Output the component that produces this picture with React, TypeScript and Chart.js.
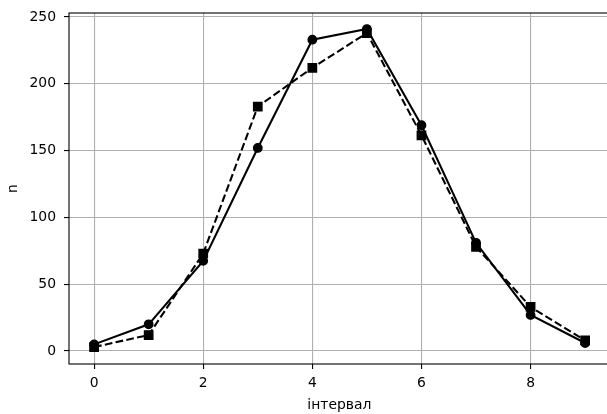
import React, { useEffect, useRef } from "react";
import { Chart, registerables } from "chart.js";

Chart.register(...registerables);

const intervals = [0, 1, 2, 3, 4, 5, 6, 7, 8, 9];
const seriesCircle = [5, 20, 67.5, 152, 233, 241, 169, 81, 27, 6];
const seriesSquare = [3, 12, 73, 183, 212, 238, 161.5, 78, 33, 8];
const xTickStep = 2;
const yTickStep = 50;
const xLabel = "інтервал";
const yLabel = "n";

const FONT = "'DejaVu Sans', sans-serif";
const FS = 13.9;

const framePlugin = {
  id: "frame",
  afterDraw(chart: any) {
    const { ctx, chartArea } = chart;
    const { left, top, right, bottom } = chartArea;
    ctx.save();
    ctx.strokeStyle = "#000";
    ctx.lineWidth = 1.1;
    ctx.strokeRect(left, top, right - left, bottom - top);
    ctx.restore();
  },
};

export default function App() {
  const ref = useRef<HTMLCanvasElement | null>(null);

  useEffect(() => {
    document.body.style.margin = "0";
    document.body.style.overflow = "hidden";
    const canvas = ref.current;
    if (!canvas) return;
    const chart = new Chart(canvas, {
      type: "line",
      data: {
        datasets: [
          {
            data: intervals.map((x, i) => ({ x, y: seriesCircle[i] })),
            borderColor: "#000",
            backgroundColor: "#000",
            borderWidth: 2.08,
            pointStyle: "circle",
            pointRadius: 4.2,
            pointBorderWidth: 1.4,
            pointBackgroundColor: "#000",
            pointBorderColor: "#000",
            tension: 0,
          },
          {
            data: intervals.map((x, i) => ({ x, y: seriesSquare[i] })),
            borderColor: "#000",
            backgroundColor: "#000",
            borderWidth: 2.08,
            borderDash: [7.7, 3.3],
            pointStyle: "rect",
            pointRadius: 5.9,
            pointBorderWidth: 1.4,
            pointBackgroundColor: "#000",
            pointBorderColor: "#000",
            tension: 0,
          },
        ],
      },
      options: {
        animation: false,
        responsive: false,
        events: [],
        layout: { padding: { left: 0, right: 0, top: 13, bottom: 0 } },
        plugins: {
          legend: { display: false },
          tooltip: { enabled: false },
        },
        scales: {
          x: {
            type: "linear",
            min: -0.46,
            max: 9.45,
            border: { display: false },
            grid: {
              color: "#b0b0b0",
              lineWidth: 1.1,
              drawTicks: true,
              tickLength: 5,
              tickColor: "#000",
              tickWidth: 1.1,
            },
            ticks: {
              stepSize: xTickStep,
              includeBounds: false,
              color: "#000",
              font: { family: FONT, size: FS },
              padding: 6,
              maxRotation: 0,
            },
            title: {
              display: true,
              text: xLabel,
              color: "#000",
              font: { family: FONT, size: FS },
              padding: { top: 0, bottom: 0 },
            },
            afterFit: (s: any) => {
              s.height = 50;
              s.paddingLeft = 0;
              s.paddingRight = 0;
            },
          },
          y: {
            type: "linear",
            min: -9.7,
            max: 253,
            border: { display: false },
            grid: {
              color: "#b0b0b0",
              lineWidth: 1.1,
              drawTicks: true,
              tickLength: 5,
              tickColor: "#000",
              tickWidth: 1.1,
            },
            ticks: {
              stepSize: yTickStep,
              includeBounds: false,
              color: "#000",
              font: { family: FONT, size: FS },
              padding: 8,
            },
            title: {
              display: true,
              text: yLabel,
              color: "#000",
              font: { family: FONT, size: FS },
              padding: { top: 5, bottom: 0 },
            },
            afterFit: (s: any) => {
              s.width = 69;
              s.paddingTop = 0;
              s.paddingBottom = 0;
            },
          },
        },
      },
      plugins: [framePlugin],
    } as any);
    return () => chart.destroy();
  }, []);

  return (
    <div style={{ width: 607, height: 414, overflow: "hidden" }}>
      <canvas ref={ref} width={617} height={414} style={{ display: "block" }} />
    </div>
  );
}
